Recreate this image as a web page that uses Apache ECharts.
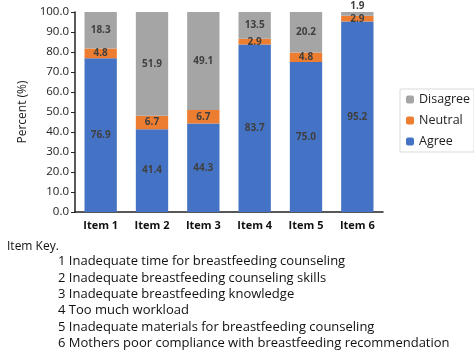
<!DOCTYPE html>
<html><head><meta charset="utf-8">
<script src="https://cdn.jsdelivr.net/npm/echarts@6/dist/echarts.min.js"></script>
<style>html,body{margin:0;padding:0;background:#fff}#c{width:474px;height:360px}</style>
</head><body><div id="c"></div>
<script>
const categories = ['Item 1','Item 2','Item 3','Item 4','Item 5','Item 6'];
const agree = [76.9, 41.4, 44.3, 83.7, 75.0, 95.2];
const neutral = [4.8, 6.7, 6.7, 2.9, 4.8, 2.9];
const disagree = [18.3, 51.9, 49.1, 13.5, 20.2, 1.9];
const keyTitle = 'Item Key.';
const keyLines = [
  '1 Inadequate time for breastfeeding counseling',
  '2 Inadequate breastfeeding counseling skills',
  '3 Inadequate breastfeeding knowledge',
  '4 Too much workload',
  '5 Inadequate materials for breastfeeding counseling',
  '6 Mothers poor compliance with breastfeeding recommendation'
];
const font = 'Open Sans';
const chart = echarts.init(document.getElementById('c'));
const lbl = {show:true, color:'#404040', fontSize:10, fontWeight:'bold', fontFamily:font, formatter:p=>p.value.toFixed(1)};
const graphics = [{type:'text', left:7, top:241, style:{text:keyTitle, font:'12px "Open Sans"', fill:'#111'}}];
keyLines.forEach((t,i)=>graphics.push({type:'text', left:58, top:255+i*16.4, style:{text:t, font:'13px "Open Sans"', fill:'#111'}}));
chart.setOption({
  animation:false,
  grid:{left:75, right:91, top:12, bottom:148},
  legend:{data:['Disagree','Neutral','Agree'], orient:'vertical', left:400, top:89, itemWidth:8, itemHeight:8, itemGap:8,
    borderColor:'#d9d9d9', borderWidth:1, padding:[4,4,4,6],
    textStyle:{fontSize:12.5, color:'#222', fontFamily:font, lineHeight:12}},
  xAxis:{type:'category', data:categories, axisTick:{show:false},
    axisLine:{lineStyle:{color:'#222', width:1.5}},
    axisLabel:{fontSize:11, fontWeight:'bold', color:'#111', fontFamily:font, margin:8}},
  yAxis:{type:'value', min:0, max:100, interval:10, name:'Percent (%)', nameLocation:'middle', nameGap:46,
    nameTextStyle:{fontSize:12, color:'#222', fontFamily:font},
    splitLine:{show:false},
    axisLine:{show:true, lineStyle:{color:'#222', width:1.5}},
    axisTick:{show:true, length:4, lineStyle:{color:'#222'}},
    axisLabel:{fontSize:11.5, color:'#222', fontFamily:font, formatter:v=>v.toFixed(1), margin:6}},
  series:[
    {name:'Agree', type:'bar', stack:'s', data:agree, barWidth:'63%', itemStyle:{color:'#4472C4'}, label:Object.assign({position:'inside'},lbl)},
    {name:'Neutral', type:'bar', stack:'s', data:neutral, itemStyle:{color:'#ED7D31'}, label:Object.assign({position:'inside'},lbl)},
    {name:'Disagree', type:'bar', stack:'s', data:disagree.map((v,i)=>i===5?{value:v,label:{position:'top',distance:1}}:v), itemStyle:{color:'#A5A5A5'}, label:Object.assign({position:'inside'},lbl)}
  ],
  graphic:graphics
});
</script></body></html>
